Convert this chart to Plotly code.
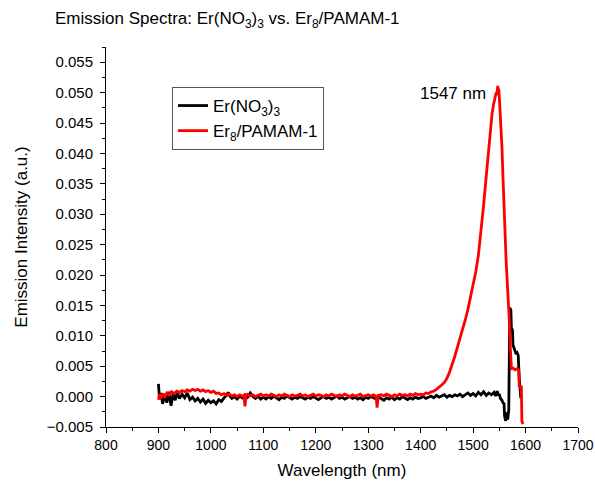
import plotly.graph_objects as go

# Er(NO3)3 emission spectrum
wl_nitrate = [
    900, 902, 905, 908, 912, 916, 920, 924, 928, 932, 936, 940, 945, 950, 955, 960,
    965, 970, 975, 980, 985, 990, 995, 1000, 1005, 1010, 1015, 1020, 1025, 1030, 1033,
    1036, 1040, 1045, 1050, 1055, 1060, 1065, 1070, 1075, 1080, 1085, 1090, 1095,
    1100, 1105, 1110, 1115, 1120, 1125, 1130, 1135, 1140, 1145, 1150, 1155, 1160,
    1165, 1170, 1175, 1180, 1185, 1190, 1195, 1200, 1205, 1210, 1215, 1220, 1225,
    1230, 1235, 1240, 1245, 1250, 1255, 1260, 1265, 1270, 1275, 1280, 1285, 1290,
    1295, 1300, 1305, 1310, 1315, 1320, 1325, 1330, 1335, 1340, 1345, 1350, 1355,
    1360, 1365, 1370, 1375, 1380, 1385, 1390, 1395, 1400, 1405, 1410, 1415, 1420,
    1425, 1430, 1435, 1440, 1445, 1450, 1455, 1460, 1465, 1470, 1475, 1480, 1485,
    1490, 1495, 1500, 1505, 1510, 1515, 1520, 1525, 1530, 1535, 1540, 1543, 1546,
    1548, 1550, 1552, 1555, 1557, 1559, 1560, 1562, 1564, 1566, 1568, 1569, 1570,
    1572, 1573, 1575, 1576, 1578, 1580, 1582, 1584, 1586, 1588, 1590, 1591,
]
int_nitrate = [
    0.0021, -0.0004, 0.0006, -0.0012, 0.0004, -0.0010, 0.0008, -0.0015, 0.0005, -0.0006,
    0.0007, -0.0003, 0.0004, -0.0002, 0.0006, -0.0005, -0.0001, -0.0007, -0.0003, -0.0009,
    -0.0004, -0.0011, -0.0006, -0.0010, -0.0007, -0.0012, -0.0005, -0.0008, -0.0002, 0.0002,
    0.0007, 0.0001, -0.0003, 0.0000, -0.0004, 0.0001, -0.0002, 0.0003, -0.0001, 0.0006,
    0.0000, -0.0003, 0.0001, -0.0004,
    -0.0001, -0.0004, 0.0000, -0.0003, 0.0001, -0.0002, -0.0005, -0.0001, -0.0003, 0.0001,
    -0.0002, -0.0004, -0.0001, -0.0003, 0.0000, -0.0002, -0.0004, -0.0001, -0.0003, 0.0000,
    -0.0002, -0.0005, -0.0002, 0.0000, -0.0003, -0.0001, -0.0004, -0.0002, 0.0001, -0.0003,
    -0.0001, -0.0004, -0.0002, 0.0000, -0.0003, -0.0001, -0.0004, -0.0002, -0.0005, -0.0001,
    -0.0003, 0.0000, -0.0002, -0.0004, -0.0001, -0.0003, -0.0006, -0.0002, -0.0004, -0.0001,
    -0.0005, -0.0002, -0.0004, 0.0000, -0.0003, -0.0005, -0.0002, -0.0004, -0.0001, -0.0003,
    -0.0002, 0.0000, -0.0003, -0.0001, 0.0001, -0.0002, 0.0002, -0.0001, 0.0001, 0.0003,
    -0.0001, 0.0002, 0.0000, 0.0003, 0.0001, 0.0004, 0.0000, 0.0003, 0.0006, 0.0002,
    0.0005, 0.0001, 0.0007, 0.0003, 0.0008, 0.0002, 0.0006, 0.0003, 0.0007, 0.0001,
    0.0009, 0.0002, 0.0004, -0.0003, -0.0006, -0.0010, -0.0012, -0.0032, -0.0040, -0.0026,
    -0.0038, -0.0022, 0.0095, 0.0146, 0.0142, 0.0112, 0.0110, 0.0085, 0.0080, 0.0074,
    0.0070, 0.0072, 0.0068, 0.0030, 0.0004, -0.0003,
]

# Er8/PAMAM-1 emission spectrum
wl_pamam = [
    900, 902, 905, 908, 912, 916, 920, 925, 930, 935, 940, 945, 950, 955, 960, 965,
    970, 975, 980, 985, 990, 995, 1000, 1005, 1010, 1015, 1020, 1025, 1030, 1035,
    1040, 1045, 1050, 1055, 1060, 1063, 1065, 1067, 1070, 1075, 1080, 1085, 1090,
    1095, 1100, 1105, 1110, 1115, 1120, 1125, 1130, 1135, 1140, 1145, 1150, 1155,
    1160, 1165, 1170, 1175, 1180, 1185, 1190, 1195, 1200, 1205, 1210, 1215, 1220,
    1225, 1230, 1235, 1240, 1245, 1250, 1255, 1260, 1265, 1270, 1275, 1280, 1285,
    1290, 1295, 1300, 1305, 1310, 1315, 1317, 1319, 1325, 1330, 1335, 1340, 1345,
    1350, 1355, 1360, 1365, 1370, 1375, 1380, 1385, 1390, 1395, 1400, 1405, 1410,
    1415, 1420, 1425, 1430, 1435, 1440, 1445, 1450, 1455, 1460, 1465, 1470, 1475,
    1480, 1485, 1490, 1495, 1500, 1505, 1510, 1515, 1520, 1525, 1530, 1533, 1536,
    1539, 1542, 1544, 1545, 1546, 1547, 1548, 1549, 1550, 1551, 1553, 1555, 1557,
    1559, 1561, 1563, 1565, 1567, 1569, 1570, 1571, 1572, 1573, 1576, 1580, 1584,
    1587, 1588, 1590, 1592, 1593, 1595,
]
int_pamam = [
    -0.0005, 0.0004, -0.0003, 0.0005, 0.0000, 0.0006, 0.0003, 0.0008, 0.0005, 0.0009,
    0.0007, 0.0010, 0.0008, 0.0011, 0.0009, 0.0012, 0.0010, 0.0012, 0.0009, 0.0011,
    0.0008, 0.0010, 0.0007, 0.0009, 0.0005, 0.0006, 0.0003, 0.0005, 0.0002, 0.0004,
    0.0001, 0.0003, 0.0000, 0.0003, 0.0001, 0.0002, -0.0016, 0.0002, 0.0004, 0.0001,
    0.0003, 0.0000, 0.0002, 0.0004, 0.0001, 0.0003, 0.0001, 0.0004, 0.0002, 0.0000,
    0.0003, 0.0001, 0.0004, 0.0002, 0.0000, 0.0003, 0.0001, 0.0002, 0.0004, 0.0001,
    0.0003, 0.0000, 0.0002, 0.0004, 0.0001, 0.0003, 0.0002, 0.0000, 0.0003, 0.0001,
    0.0004, 0.0002, 0.0000, 0.0003, 0.0001, 0.0004, 0.0002, 0.0000, 0.0003, 0.0001,
    0.0002, 0.0004, 0.0000, 0.0002, 0.0003, 0.0001, 0.0003, 0.0000, -0.0018, 0.0002,
    0.0003, 0.0001, 0.0004, 0.0002, 0.0000, 0.0003, 0.0001, 0.0004, 0.0002, 0.0003,
    0.0001, 0.0004, 0.0002, 0.0005, 0.0003, 0.0004, 0.0003, 0.0006, 0.0005, 0.0008,
    0.0009, 0.0012, 0.0015, 0.0019, 0.0023, 0.0030, 0.0040, 0.0052, 0.0066, 0.0081,
    0.0095, 0.0110, 0.0126, 0.0143, 0.0162, 0.0183, 0.0205, 0.0232, 0.0270, 0.0315,
    0.0362, 0.0415, 0.0440, 0.0464, 0.0481, 0.0493, 0.0500, 0.0496, 0.0508, 0.0511,
    0.0500, 0.0506, 0.0492, 0.0478, 0.0445, 0.0410, 0.0360, 0.0300, 0.0260, 0.0222,
    0.0190, 0.0160, 0.0135, 0.0110, 0.0080, 0.0060, 0.0046, 0.0047, 0.0044, 0.0046,
    0.0043, 0.0017, 0.0015, 0.0018, -0.0040, -0.0045,
]

peak_wl = 1547
peak_label = f"{peak_wl} nm"

x_ticks = list(range(800, 1701, 100))

font_family = "Liberation Sans, Arial, sans-serif"

# plot-area edges in pixels
W, H = 595, 484
L, R, T, B = 106, 17, 47, 57
plot_w, plot_h = W - L - R, H - T - B

fig = go.Figure()
fig.add_trace(go.Scatter(
    x=wl_nitrate, y=int_nitrate, mode="lines",
    name="Er(NO<sub>3</sub>)<sub>3</sub>",
    line=dict(color="black", width=2.8),
))
fig.add_trace(go.Scatter(
    x=wl_pamam, y=int_pamam, mode="lines",
    name="Er<sub>8</sub>/PAMAM-1",
    line=dict(color="#ff0000", width=2.8),
))

fig.add_annotation(
    x=1528, y=0.0498, xref="x", yref="y",
    text=peak_label, showarrow=False,
    xanchor="right", yanchor="middle",
    font=dict(size=17, color="black", family=font_family),
)

axis_common = dict(
    showline=True, linecolor="black", linewidth=1,
    showgrid=False, zeroline=False, automargin=False,
    ticks="outside", ticklen=5, tickwidth=1, tickcolor="black",
    mirror=False,
)

fig.update_layout(
    width=W, height=H,
    margin=dict(l=L, r=R, t=T, b=B),
    paper_bgcolor="white", plot_bgcolor="white",
    font=dict(family=font_family, color="black"),
    title=dict(
        text="Emission Spectra: Er(NO<sub>3</sub>)<sub>3</sub> vs. Er<sub>8</sub>/PAMAM-1",
        x=55 / W, xref="container", xanchor="left",
        y=1 - 18 / H, yref="container", yanchor="middle",
        font=dict(size=17, color="black", family=font_family),
    ),
    xaxis=dict(
        **axis_common,
        range=[800, 1700], tickvals=x_ticks,
        tickfont=dict(size=14, color="black", family=font_family),
        minor=dict(dtick=50, tick0=800, ticks="outside", ticklen=3,
                   tickcolor="black", tickwidth=1),
        title=dict(text="Wavelength (nm)", standoff=12,
                   font=dict(size=17, color="black", family=font_family)),
    ),
    yaxis=dict(
        **axis_common,
        range=[-0.005, 0.0575], dtick=0.005, tick0=0, tickformat=".3f",
        ticklabelstandoff=4,
        tickfont=dict(size=15, color="black", family=font_family),
        minor=dict(dtick=0.0025, tick0=0, ticks="outside", ticklen=3,
                   tickcolor="black", tickwidth=1),
        title=dict(text="Emission Intensity (a.u.)", standoff=14,
                   font=dict(size=17, color="black", family=font_family)),
    ),
    showlegend=True,
    legend=dict(
        x=(172 - L) / plot_w, y=(H - B - 87) / plot_h,
        xanchor="left", yanchor="top",
        bordercolor="#555555", borderwidth=1, bgcolor="white",
        font=dict(size=17, color="black", family=font_family),
        tracegroupgap=0, itemwidth=30,
    ),
)

fig.write_html("out.html")
